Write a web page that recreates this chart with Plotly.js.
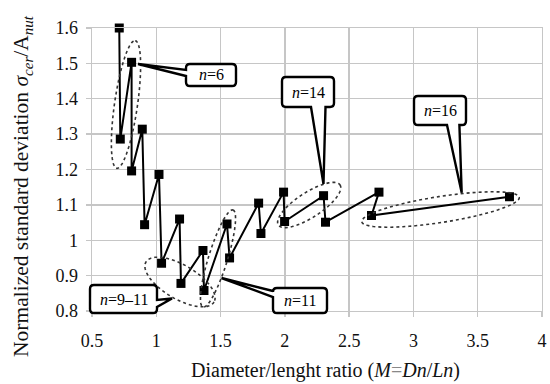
<!DOCTYPE html>
<html>
<head>
<meta charset="utf-8">
<script src="https://cdn.plot.ly/plotly-3.0.1.min.js"></script>
<style>html,body{margin:0;padding:0;background:#fff;}#chart{width:550px;height:384px;}</style>
</head>
<body>
<div id="chart"></div>
<script>
// ---- data ----
const ratioM = [0.712,0.720,0.808,0.808,0.891,0.909,1.021,1.041,1.181,1.192,1.363,1.371,1.550,1.570,1.796,1.814,1.990,1.998,2.301,2.316,2.732,2.674,3.747];
const normStd = [1.600,1.286,1.503,1.196,1.314,1.044,1.186,0.935,1.060,0.878,0.971,0.858,1.046,0.950,1.105,1.019,1.136,1.053,1.126,1.051,1.136,1.070,1.123];
const xTicks = [0.5,1,1.5,2,2.5,3,3.5,4];
const xTickText = ['0.5','1','1.5','2','2.5','3','3.5','4'];
const yTicks = [0.8,0.9,1,1.1,1.2,1.3,1.4,1.5,1.6];
const yTickText = ['0.8','0.9','1','1.1','1.2','1.3','1.4','1.5','1.6'];
const groupLabels = ['<i>n</i>=6','<i>n</i>=14','<i>n</i>=16','<i>n</i>=9–11','<i>n</i>=11'];

const SERIF = 'Liberation Serif';

// ---- geometry helpers (decorations placed in pixel space, mapped to paper coords) ----
const W=550,H=384,L=92,R=8,T=28,B=73;
const X0=0.5,X1=4,Y0=0.8,Y1=1.6;
const pw=W-L-R, ph=H-T-B;
const gx=p=>(p-L)/pw;
const gy=p=>1-(p-T)/ph;
const P=(x,y)=>gx(x).toFixed(5)+','+gy(y).toFixed(5);

function ellipse(cx,cy,a,b,angDeg){
  const t=angDeg*Math.PI/180, n=72; let d='';
  for(let i=0;i<=n;i++){
    const u=2*Math.PI*i/n;
    const ex=a*Math.cos(u), ey=b*Math.sin(u);
    const x=cx+ex*Math.cos(t)-ey*Math.sin(t);
    const y=cy+ex*Math.sin(t)+ey*Math.cos(t);
    d+=(i===0?'M':'L')+P(x,y);
  }
  return {type:'path',xref:'paper',yref:'paper',path:d+'Z',line:{color:'#333',width:1.6,dash:'dot'},layer:'above'};
}
function callout(x0,y0,x1,y1,side,a,b,tx,ty){
  const r=4; let d='M'+P(x0+r,y0);
  if(side==='top'){d+='L'+P(Math.min(a,b),y0)+'L'+P(tx,ty)+'L'+P(Math.max(a,b),y0);}
  d+='L'+P(x1-r,y0)+'Q'+P(x1,y0)+' '+P(x1,y0+r);
  if(side==='right'){d+='L'+P(x1,Math.min(a,b))+'L'+P(tx,ty)+'L'+P(x1,Math.max(a,b));}
  d+='L'+P(x1,y1-r)+'Q'+P(x1,y1)+' '+P(x1-r,y1);
  if(side==='bottom'){d+='L'+P(Math.max(a,b),y1)+'L'+P(tx,ty)+'L'+P(Math.min(a,b),y1);}
  d+='L'+P(x0+r,y1)+'Q'+P(x0,y1)+' '+P(x0,y1-r);
  if(side==='left'){d+='L'+P(x0,Math.max(a,b))+'L'+P(tx,ty)+'L'+P(x0,Math.min(a,b));}
  d+='L'+P(x0,y0+r)+'Q'+P(x0,y0)+' '+P(x0+r,y0)+'Z';
  return {type:'path',xref:'paper',yref:'paper',path:d,fillcolor:'#fff',line:{color:'#000',width:2.4},layer:'above'};
}
const boxes=[
  [186,64,236,86,'left',70,76,138,64],
  [282,77,334,107,'bottom',311,325.5,323.5,184],
  [414,96,466,125,'bottom',447,459.4,461.7,192.7],
  [90,285,157,313,'right',300,307,172,298.5],
  [273,288,327,313,'left',291,297,221.5,278]
];
const shapes=[
  ellipse(126,104.5,64.5,11.5,-81.8),
  ellipse(180,282,39.5,17,30.5),
  ellipse(218,258.5,50.8,9.5,-72.8),
  ellipse(309.2,205,36.8,12.5,-33),
  ellipse(440.5,209.5,79.7,13,-8.8)
];
const annotations=[];
boxes.forEach((bx,i)=>{
  shapes.push(callout(...bx));
  annotations.push({xref:'paper',yref:'paper',x:gx((bx[0]+bx[2])/2),y:gy((bx[1]+bx[3])/2),text:groupLabels[i],showarrow:false,
    xanchor:'center',yanchor:'middle',font:{family:SERIF,size:16,color:'#000'}});
});
annotations.push({xref:'paper',yref:'paper',x:gx(325),y:gy(370),xanchor:'center',yanchor:'middle',showarrow:false,
  text:'Diameter/lenght ratio (<i>M</i><span style="color:#888">=</span><i>Dn</i>/<i>Ln</i>)',
  font:{family:SERIF,size:20,color:'#111'}});
annotations.push({xref:'paper',yref:'paper',x:gx(22),y:gy(186),xanchor:'center',yanchor:'middle',showarrow:false,textangle:-90,
  text:'Normalized standard deviation <i>σ</i><sub><i>cer</i></sub>/A<sub><i>nut</i></sub>',
  font:{family:SERIF,size:21.5,color:'#111'}});

const trace={x:ratioM,y:normStd,type:'scatter',mode:'lines+markers',cliponaxis:false,
  line:{color:'#000',width:2},marker:{symbol:'square',size:9,color:'#000'},hoverinfo:'skip'};

const axisCommon={showgrid:true,gridcolor:'#c6c6c6',gridwidth:1.3,showline:true,linecolor:'#c6c6c6',linewidth:1.3,mirror:true,
  ticks:'outside',ticklen:5,tickcolor:'#c6c6c6',tickwidth:1.3,zeroline:false,
  tickfont:{family:SERIF,size:18,color:'#111'}};
const layout={width:W,height:H,margin:{l:L,r:R,t:T,b:B},paper_bgcolor:'#fff',plot_bgcolor:'#fff',showlegend:false,
  font:{family:SERIF},
  xaxis:Object.assign({},axisCommon,{range:[X0,X1],tickvals:xTicks,ticktext:xTickText,ticklabelstandoff:8}),
  yaxis:Object.assign({},axisCommon,{range:[Y0,Y1],tickvals:yTicks,ticktext:yTickText,ticklabelstandoff:4}),
  shapes:shapes,annotations:annotations};
Plotly.newPlot('chart',[trace],layout,{displayModeBar:false,staticPlot:true});
</script>
</body>
</html>
